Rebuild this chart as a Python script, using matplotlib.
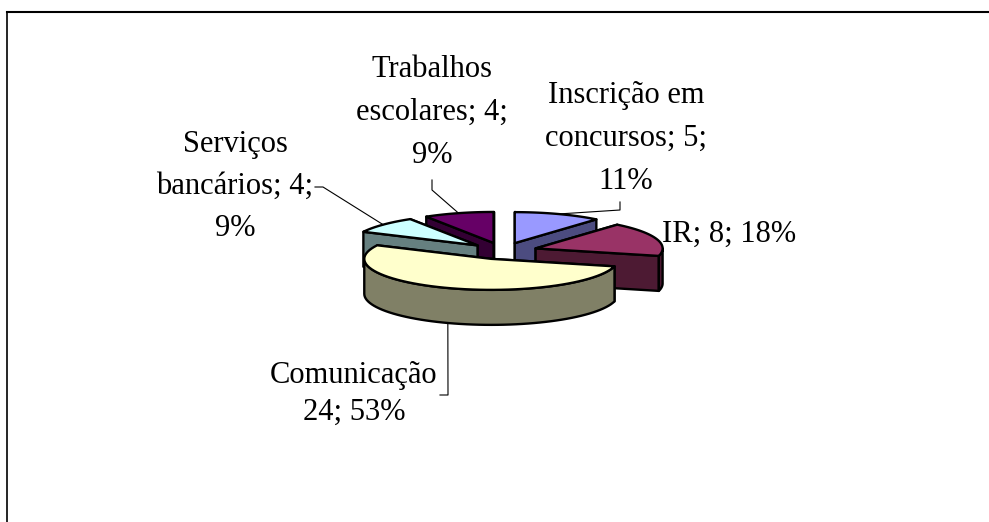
import numpy as np
import matplotlib
matplotlib.use("Agg")
import matplotlib.pyplot as plt
from matplotlib.patches import Polygon

# Dados do grafico
categorias = ["Inscrição em\nconcursos", "IR", "Comunicação", "Serviços\nbancários", "Trabalhos\nescolares"]
valores = [5, 8, 24, 4, 4]
cores_topo = ["#9999FF", "#993366", "#FFFFCC", "#CCFFFF", "#660066"]
cores_lado = ["#4C4C80", "#4D1A33", "#808066", "#668080", "#330033"]

# Geometria (pixels)
CX, CY = 503, 251
RX, RY = 127, 31
PROF = 35
EXPLODE = 0.27

# Rotulos: (x, baseline da 1a linha, espacamento, alinhamento)
pos_rotulos = [(626, 103, 43, "center"), (662, 242, 0, "left"), (354, 383, 37, "center"),
               (235, 152, 42, "center"), (432, 77, 43, "center")]
cotovelos = [[(620, 202), (620, 210)], None, [(440, 395), (448, 395)],
             [(315, 187), (323, 187)], [(432, 180), (432, 190)]]
# categoria; valor; percentual (quebra de linha conforme o original)
formato = ["{c}; {v};\n{p}%", "{c}; {v}; {p}%", "{c}\n{v}; {p}%", "{c}; {v};\n{p}%", "{c}; {v};\n{p}%"]


def ponto(c, ang):
    a = np.radians(ang)
    return np.array([c[0] + RX * np.sin(a), c[1] - RY * np.cos(a)])


def arco(c, a1, a2, n=60):
    return np.array([ponto(c, a) for a in np.linspace(a1, a2, n)])


fig = plt.figure(figsize=(9.89, 5.22), dpi=100)
ax = fig.add_axes([0, 0, 1, 1])
ax.set_xlim(0, 989)
ax.set_ylim(522, 0)
ax.axis("off")

total = sum(valores)
fatias = []
ini = 0.0
for i, v in enumerate(valores):
    fim = ini + 360.0 * v / total
    meio = (ini + fim) / 2
    m = np.radians(meio)
    c = (CX + EXPLODE * RX * np.sin(m), CY - EXPLODE * RY * np.cos(m))
    fatias.append((i, ini, fim, meio, c))
    ini = fim

ordem = sorted(fatias, key=lambda f: -np.cos(np.radians(f[3])))
desloc = np.array([0, PROF])
kw = dict(edgecolor="black", linewidth=1.7, joinstyle="round")

for i, a1, a2, meio, c in ordem:
    apex = np.array(c)
    faces_tras, faces_frente = [], []
    for ang, frente in [(a1, np.sin(np.radians(a1)) < -1e-6), (a2, np.sin(np.radians(a2)) > 1e-6)]:
        r = ponto(c, ang)
        quad = [apex, r, r + desloc, apex + desloc]
        (faces_frente if frente else faces_tras).append(quad)
    for q in faces_tras + faces_frente:
        ax.add_patch(Polygon(q, closed=True, facecolor=cores_lado[i], **kw))
    w1, w2 = max(a1, 90), min(a2, 270)
    if w2 > w1:
        topo = arco(c, w1, w2)
        parede = np.vstack([topo, (topo + desloc)[::-1]])
        ax.add_patch(Polygon(parede, closed=True, facecolor=cores_lado[i], **kw))
    sup = np.vstack([apex, arco(c, a1, a2)])
    ax.add_patch(Polygon(sup, closed=True, facecolor=cores_topo[i], **kw))

# Rotulos e linhas de chamada
for i, a1, a2, meio, c in fatias:
    x, y0, esp, ha = pos_rotulos[i]
    pct = round(100 * valores[i] / total)
    txt = formato[i].format(c=categorias[i], v=valores[i], p=pct)
    for k, linha in enumerate(txt.split("\n")):
        ax.text(x, y0 + k * esp, linha, ha=ha, va="baseline", fontsize=22,
                family="Liberation Serif")
    if cotovelos[i] is not None:
        fim = ponto(c, meio)
        if np.cos(np.radians(meio)) < 0:
            fim = fim + desloc
        pts = np.array(cotovelos[i] + [tuple(fim)])
        ax.plot(pts[:, 0], pts[:, 1], color="black", linewidth=0.8)

# Moldura
ax.plot([7, 989], [12, 12], color="black", linewidth=1.5)
ax.plot([7, 7], [12, 522], color="black", linewidth=1.2)

fig.savefig("out.png", dpi=100)
